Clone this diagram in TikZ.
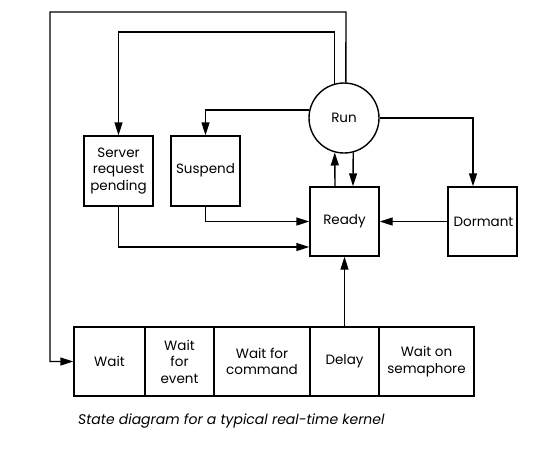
\documentclass[tikz,border=0pt]{standalone}
\usepackage{fontspec}
\setmainfont{Poppins}
\usetikzlibrary{arrows.meta,calc}
\begin{document}
\begin{tikzpicture}[x=1pt,y=-1pt,
  every node/.style={font=\fontsize{13.5}{16.5}\selectfont, inner sep=0pt},
  box/.style={draw, line width=1.4pt, minimum width=69pt, minimum height=70pt, align=center},
  st/.style={draw, circle, line width=1.4pt, minimum size=70pt},
  conn/.style={line width=1.4pt, -{Triangle[length=13pt,width=8pt]}},
  plain/.style={line width=1.4pt}]
\useasboundingbox (0,0) rectangle (553,451);
\node[st] (run) at (344,118) {Run};
\node[box] (server) at (118.5,171) {Server\\request\\pending};
\node[box] (suspend) at (205.5,171) {\raisebox{5pt}{Suspend}};
\node[box, minimum height=69pt] (ready) at (344.5,221.5) {Ready};
\node[box, minimum height=69pt] (dormant) at (482.5,221.5) {\hspace*{2pt}Dormant};
\node[box, minimum width=71pt, minimum height=69pt] (wait) at (109.5,361.5) {Wait};
\node[box, minimum width=69pt, minimum height=69pt] (waitev) at (179.5,361.5) {Wait\\for\\event};
\node[box, minimum width=96pt, minimum height=69pt] (waitcmd) at (262,361.5) {Wait for\\command};
\node[box, minimum width=69pt, minimum height=69pt] (delay) at (344.5,361.5) {Delay};
\node[box, minimum width=95pt, minimum height=69pt] (waitsem) at (426.5,361.5) {Wait on\\semaphore};
\node[anchor=west, font=\fontsize{14}{16}\selectfont\itshape] (cap) at (78,421) {State diagram for a typical real-time kernel};
% connectors
\coordinate (c1) at (346,12);
\coordinate (c2) at (50,12);
\coordinate (c3) at (50,361.5);
\draw[conn] (run.87) -- (c1) -- (c2) -- (c3) -- (wait.west);
\coordinate (c4) at (118.5,32);
\draw[conn] (run.105) |- (c4) -- (server.north);
\draw[conn] (run.167) -| (suspend.north);
\coordinate (c5) at (473,118);
\draw[conn] (run.east) -- (c5) -- (c5 |- dormant.north);
\draw[conn] ($(ready.north)+(-9.5,0)$) -- (run.255);
\draw[conn] (run.285) -- ($(ready.north)+(8.5,0)$);
\draw[conn] (dormant.west) -- (ready.east);
\draw[conn] (suspend.south) |- (ready.west);
\draw[conn] (server.south) |- ($(ready.west)+(0,25.5)$);
\draw[conn] (delay.north) -- (ready.south);
\end{tikzpicture}
\end{document}
